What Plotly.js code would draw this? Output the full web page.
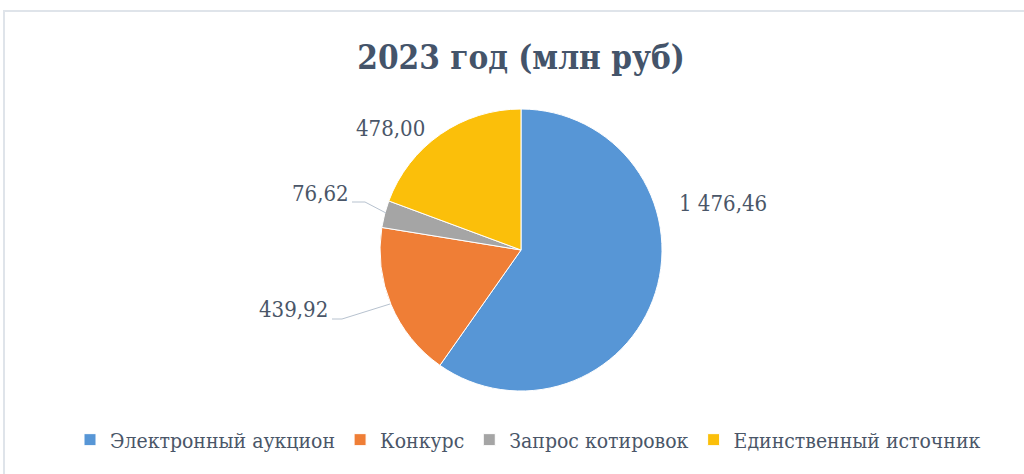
<!DOCTYPE html>
<html>
<head>
<meta charset="utf-8">
<script src="https://cdn.plot.ly/plotly-3.0.1.min.js"></script>
<style>
html,body{margin:0;padding:0;background:#fff;}
#chart{width:1024px;height:474px;}
</style>
</head>
<body>
<div id="chart"></div>
<script>
const categories = ["Электронный аукцион", "Конкурс", "Запрос котировок", "Единственный источник"];
const values = [1476.46, 439.92, 76.62, 478.00];
const colors = ["#5796d6", "#ef7e36", "#a5a5a5", "#fbbf0a"];
const chartTitle = "2023 год (млн руб)";

function fmt(v) {
  const parts = v.toFixed(2).split(".");
  parts[0] = parts[0].replace(/\B(?=(\d{3})+(?!\d))/g, " ");
  return parts[0] + "," + parts[1];
}

const W = 1024, H = 474;
const px = x => x / W;
const py = y => 1 - y / H;

const labelPos = [
  {x: 723, y: 203},
  {x: 293, y: 309},
  {x: 320, y: 193},
  {x: 390, y: 128}
];

const serif = "DejaVu Serif Condensed";
const labelFont = {family: serif, stretch: "condensed", size: 22, color: "#4a5668"};

const annotations = values.map((v, i) => ({
  xref: "paper", yref: "paper",
  x: px(labelPos[i].x), y: py(labelPos[i].y),
  xanchor: "center", yanchor: "middle",
  text: fmt(v), showarrow: false,
  font: labelFont
}));

const leaderColor = "#b7c2cf";
function polyPath(pts) {
  return pts.map((p, i) => (i ? "L" : "M") + px(p[0]) + "," + py(p[1])).join(" ");
}
const shapes = [
  {type: "rect", xref: "paper", yref: "paper", x0: px(4), x1: 1.05, y0: -0.05, y1: py(11),
   line: {color: "#dfe4ea", width: 2}, fillcolor: "rgba(0,0,0,0)", layer: "below"},
  {type: "path", xref: "paper", yref: "paper", path: polyPath([[352, 202], [365, 202], [386, 213]]),
   line: {color: leaderColor, width: 1}},
  {type: "path", xref: "paper", yref: "paper", path: polyPath([[332, 319], [342, 319], [390, 304]]),
   line: {color: leaderColor, width: 1}}
];

const cx = 521, cy = 250, r = 141;

const data = [{
  type: "pie",
  labels: categories,
  values: values,
  sort: false,
  direction: "clockwise",
  rotation: 0,
  textinfo: "none",
  hoverinfo: "label+value",
  marker: {colors: colors, line: {color: "#ffffff", width: 1}},
  domain: {x: [px(cx - r), px(cx + r)], y: [py(cy + r), py(cy - r)]}
}];

const layout = {
  width: W, height: H,
  margin: {l: 0, r: 0, t: 0, b: 0},
  paper_bgcolor: "#ffffff",
  title: {
    text: "<b>" + chartTitle + "</b>",
    font: {family: serif, stretch: "condensed", size: 33, color: "#44546a"},
    x: px(521), xanchor: "center",
    y: py(57), yanchor: "middle"
  },
  showlegend: true,
  legend: {
    orientation: "h",
    x: px(528), xanchor: "center",
    y: py(440), yanchor: "middle",
    font: {family: serif, stretch: "condensed", size: 21, color: "#4a5668"},
    itemwidth: 30,
    traceorder: "normal"
  },
  annotations: annotations,
  shapes: shapes
};

Plotly.newPlot("chart", data, layout, {displayModeBar: false, staticPlot: true});
</script>
</body>
</html>
